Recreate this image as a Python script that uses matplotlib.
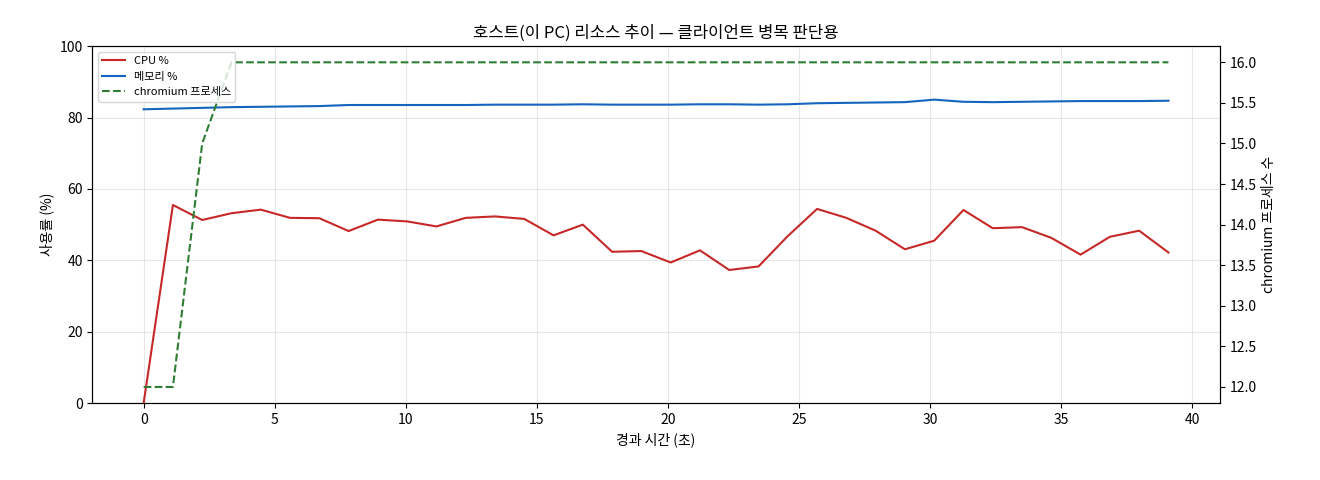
import numpy as np
import matplotlib
matplotlib.use("Agg")
import matplotlib.pyplot as plt

plt.rcParams["font.family"] = ["Noto Sans CJK KR", "DejaVu Sans"]
plt.rcParams["font.size"] = 10

elapsed = np.arange(36) * 1.117
cpu = [0, 55.5, 51.3, 53.2, 54.2, 51.9, 51.8, 48.2, 51.4, 50.9, 49.5, 51.9,
       52.3, 51.6, 47.0, 50.0, 42.4, 42.6, 39.4, 42.8, 37.3, 38.3, 46.8, 54.4,
       51.9, 48.3, 43.1, 45.5, 54.1, 49.0, 49.3, 46.3, 41.6, 46.6, 48.3, 42.2]
mem = [82.3, 82.5, 82.7, 82.9, 83.0, 83.1, 83.2, 83.5, 83.5, 83.5, 83.5, 83.5,
       83.6, 83.6, 83.6, 83.7, 83.6, 83.6, 83.6, 83.7, 83.7, 83.6, 83.7, 84.0,
       84.1, 84.2, 84.3, 85.0, 84.4, 84.3, 84.4, 84.5, 84.6, 84.6, 84.6, 84.7]
procs = [12, 12, 15, 16] + [16] * 32

fig, ax = plt.subplots(figsize=(13.2, 4.8), dpi=100)
ax.plot(elapsed, cpu, color="#c62828", lw=1.5, label="CPU %")
ax.plot(elapsed, mem, color="#1565c0", lw=1.5, label="메모리 %")
ax.set_ylim(0, 100)
ax.set_ylabel("사용률 (%)")
ax.set_xlabel("경과 시간 (초)")
ax.grid(alpha=0.3)
ax2 = ax.twinx()
ax2.plot(elapsed, procs, color="#2e7d32", lw=1.5, ls="--", label="chromium 프로세스")
ax2.set_ylabel("chromium 프로세스 수")
h1, l1 = ax.get_legend_handles_labels()
h2, l2 = ax2.get_legend_handles_labels()
ax2.legend(h1 + h2, l1 + l2, loc="upper left", fontsize=8)
ax.set_title("호스트(이 PC) 리소스 추이 — 클라이언트 병목 판단용")
fig.subplots_adjust(left=0.07, right=0.924, top=0.904, bottom=0.16)
fig.savefig("out.png")
